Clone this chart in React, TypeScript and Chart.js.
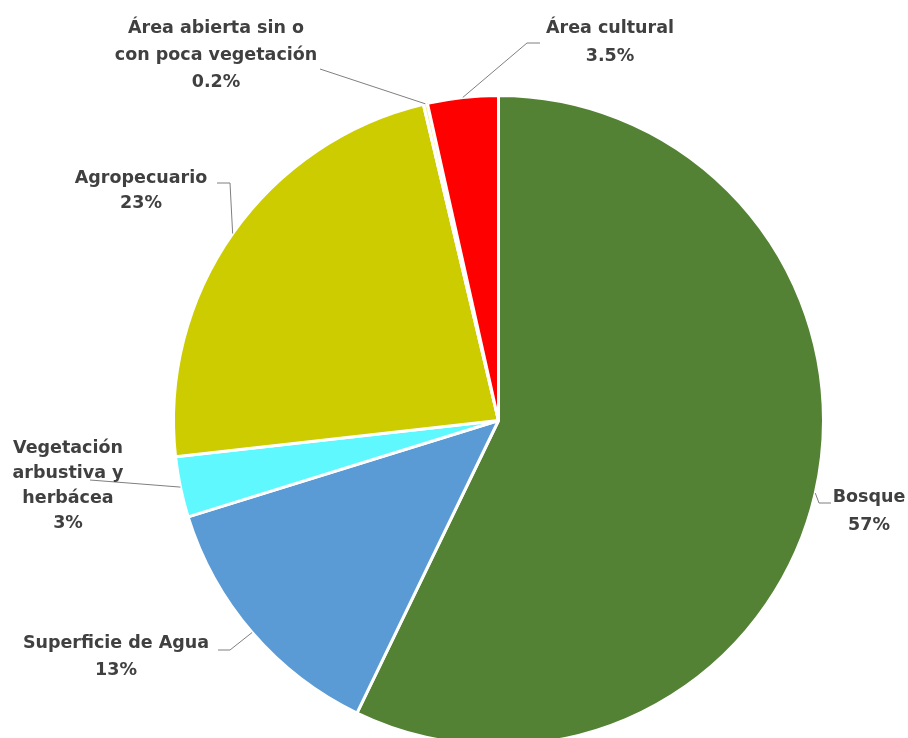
import React, { useEffect, useRef } from "react";
import { Chart, registerables } from "chart.js";

Chart.register(...registerables);

const categories = [
  "Bosque",
  "Superficie de Agua",
  "Vegetación arbustiva y herbácea",
  "Agropecuario",
  "Área abierta sin o con poca vegetación",
  "Área cultural",
];
const values = [57, 13, 3, 23, 0.2, 3.5];
const sliceColors = ["#548235", "#5B9BD5", "#5FF8FF", "#CCCC00", "#F2F2A0", "#FF0000"];

// label text lines (name part) for each category
const labelLines = [
  ["Bosque"],
  ["Superficie de Agua"],
  ["Vegetación", "arbustiva y", "herbácea"],
  ["Agropecuario"],
  ["Área abierta sin o", "con poca vegetación"],
  ["Área cultural"],
];

// label placement: text centre x, first line y, line height, leader points before the slice anchor
const labelLayout = [
  { x: 869, y: 497, lh: 28, leader: [[831, 503], [819, 503]] },
  { x: 116, y: 643, lh: 27, leader: [[218, 650], [230, 650]] },
  { x: 68, y: 448, lh: 25, leader: [[90, 480]] },
  { x: 141, y: 178, lh: 25, leader: [[217, 183], [230, 183]] },
  { x: 216, y: 28, lh: 27, leader: [[320, 69]] },
  { x: 610, y: 28, lh: 28, leader: [[540, 43], [527, 43]] },
];

const labelPlugin = {
  id: "outerLabels",
  afterDraw(chart: any) {
    const ctx = chart.ctx;
    const meta = chart.getDatasetMeta(0);
    ctx.save();
    meta.data.forEach((arc: any, i: number) => {
      const p = arc.getProps(["x", "y", "startAngle", "endAngle", "outerRadius"], true);
      const mid = (p.startAngle + p.endAngle) / 2;
      const ax = p.x + Math.cos(mid) * p.outerRadius;
      const ay = p.y + Math.sin(mid) * p.outerRadius;
      const lay = labelLayout[i];
      ctx.strokeStyle = "#7F7F7F";
      ctx.lineWidth = 1;
      ctx.beginPath();
      lay.leader.forEach((pt, k) => {
        if (k === 0) ctx.moveTo(pt[0], pt[1]);
        else ctx.lineTo(pt[0], pt[1]);
      });
      ctx.lineTo(ax, ay);
      ctx.stroke();
      const lines = [...labelLines[i], String(values[i]) + "%"];
      ctx.fillStyle = "#404040";
      ctx.font = "bold 17.5px 'DejaVu Sans'";
      ctx.textAlign = "center";
      ctx.textBaseline = "middle";
      lines.forEach((t, k) => {
        ctx.fillText(t, lay.x, lay.y + k * lay.lh);
      });
    });
    ctx.restore();
  },
};

export default function App() {
  const ref = useRef<HTMLCanvasElement>(null);
  useEffect(() => {
    if (!ref.current) return;
    const chart = new Chart(ref.current, {
      type: "pie",
      data: {
        labels: categories,
        datasets: [
          {
            data: values,
            backgroundColor: sliceColors,
            borderColor: "#FFFFFF",
            borderWidth: 3,
          },
        ],
      },
      options: {
        responsive: false,
        animation: false,
        layout: { padding: { left: 172, right: 83, top: 94, bottom: 13 } },
        plugins: {
          legend: { display: false },
          tooltip: { enabled: false },
        },
      },
      plugins: [labelPlugin],
    });
    return () => chart.destroy();
  }, []);
  return (
    <div
      style={{
        position: "absolute",
        left: 0,
        top: 0,
        width: 908,
        height: 738,
        overflow: "hidden",
        background: "#FFFFFF",
      }}
    >
      <canvas ref={ref} width={908} height={760} style={{ display: "block" }} />
    </div>
  );
}
